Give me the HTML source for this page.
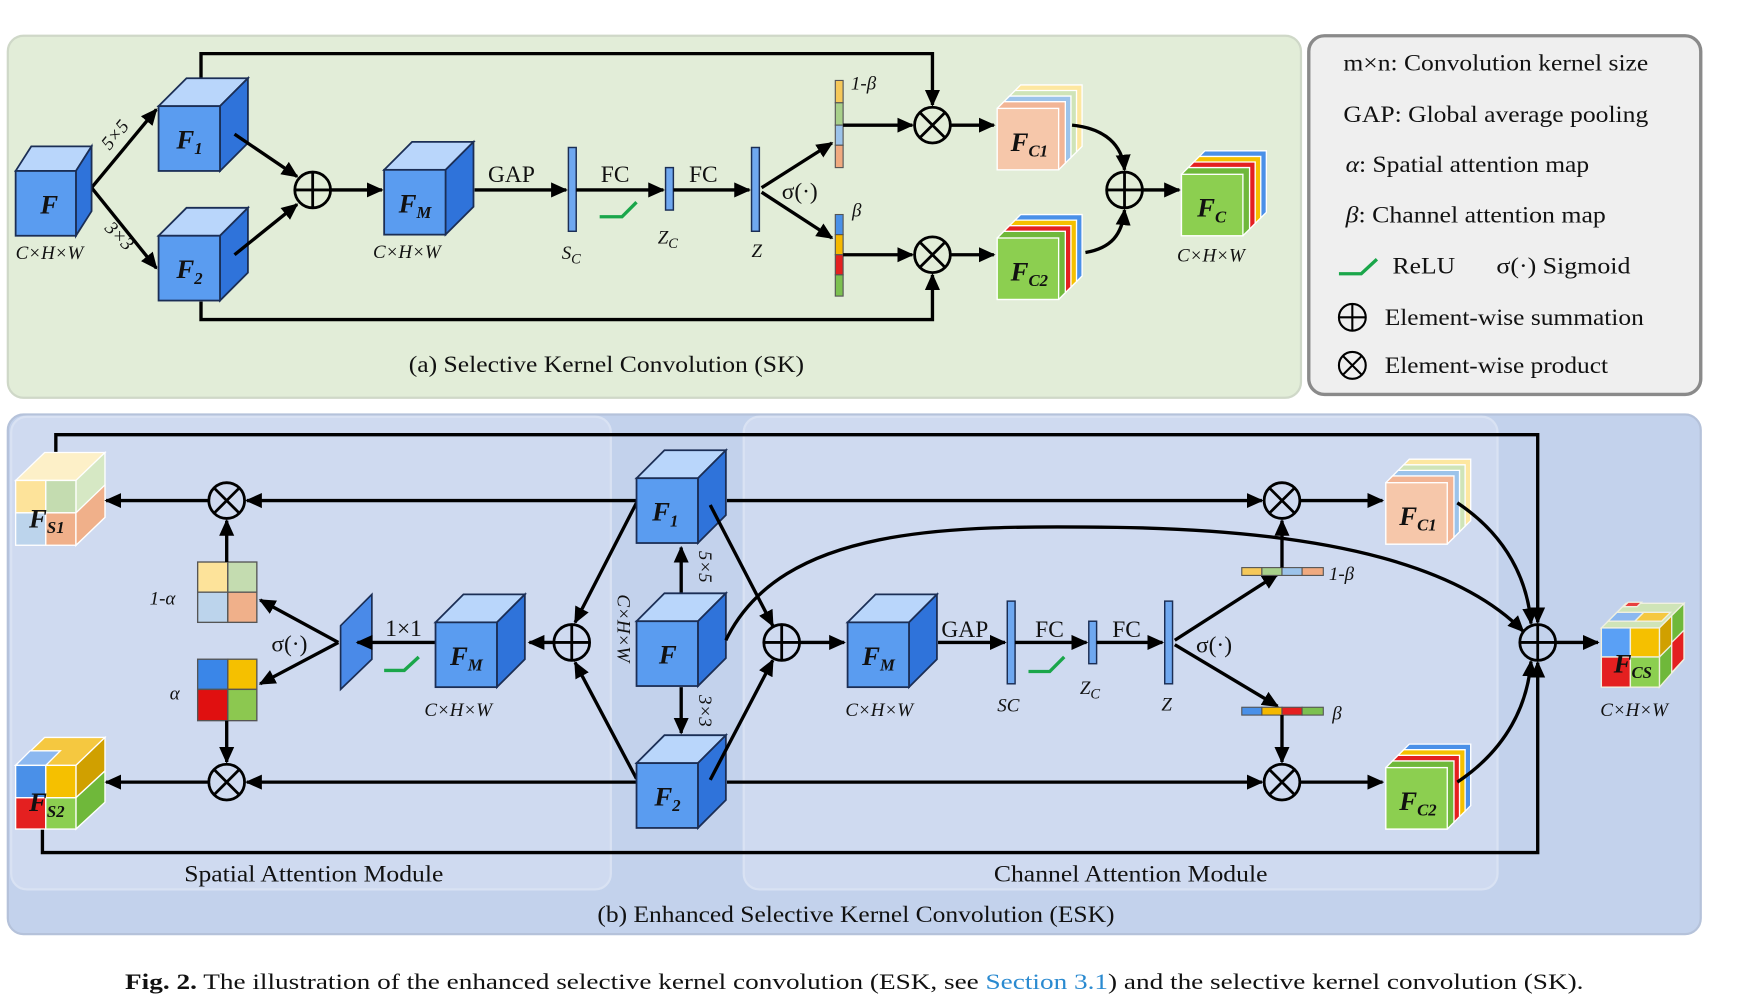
<!DOCTYPE html>
<html><head><meta charset="utf-8"><style>
html,body{margin:0;padding:0;background:#fff;width:1751px;height:1000px;overflow:hidden}
text{font-family:"Liberation Serif",serif;fill:#111}
.lb{font-style:italic;font-weight:bold;font-size:24px}
.sb{font-style:italic;font-weight:bold;font-size:15px}
.it{font-style:italic;font-size:17px}
.t{font-size:21px}
.ln{stroke:#000;stroke-width:3;fill:none}
.ar{stroke:#000;stroke-width:3;fill:none;marker-end:url(#ah)}
</style></head><body>
<svg width="1751" height="1000" viewBox="0 0 1568 895" preserveAspectRatio="none" xmlns="http://www.w3.org/2000/svg">
<defs>
<marker id="ah" viewBox="0 0 10 10" refX="9" refY="5" markerWidth="5" markerHeight="5" orient="auto"><path d="M0,0.5 L10,5 L0,9.5 z" fill="#000"/></marker>
<g id="cube" stroke="#1b2e55" stroke-width="1.6">
<polygon points="0,0 25,-25 80,-25 55,0" fill="#b9d6fb"/>
<polygon points="55,0 80,-25 80,33 55,58" fill="#2f73da"/>
<rect x="0" y="0" width="55" height="58" fill="#5a9cf0"/>
</g>
<g id="cubeS" stroke="#1b2e55" stroke-width="1.6">
<polygon points="0,0 14,-22 68,-22 54,0" fill="#b9d6fb"/>
<polygon points="54,0 68,-22 68,36 54,58" fill="#2f73da"/>
<rect x="0" y="0" width="54" height="58" fill="#5a9cf0"/>
</g>
<g id="plus"><circle r="16" fill="none" stroke="#000" stroke-width="2.5"/><path d="M-16,0H16M0,-16V16" stroke="#000" stroke-width="2.5"/></g>
<g id="times"><circle r="16" fill="none" stroke="#000" stroke-width="2.5"/><path d="M-11.3,-11.3L11.3,11.3M11.3,-11.3L-11.3,11.3" stroke="#000" stroke-width="2.5"/></g>
<g id="stO" stroke="#fff" stroke-width="1.2">
<polygon points="15,-15 21,-21 76,-21 76,34 70,40 15,40" fill="#fde7a0"/>
<polygon points="10,-10 16,-16 71,-16 71,39 65,45 10,45" fill="#cfe4b8"/>
<polygon points="5,-5 11,-11 66,-11 66,44 60,50 5,50" fill="#9cc3ea"/>
<polygon points="0,0 6,-6 61,-6 61,49 55,55 0,55" fill="#f2b595"/>
<rect x="0" y="0" width="55" height="55" fill="#f6c7aa"/>
</g>
<g id="stG" stroke="#fff" stroke-width="1.2">
<polygon points="15,-15 21,-21 76,-21 76,34 70,40 15,40" fill="#4a90e8"/>
<polygon points="10,-10 16,-16 71,-16 71,39 65,45 10,45" fill="#f5c000"/>
<polygon points="5,-5 11,-11 66,-11 66,44 60,50 5,50" fill="#e42020"/>
<polygon points="0,0 6,-6 61,-6 61,49 55,55 0,55" fill="#6fb83a"/>
<rect x="0" y="0" width="55" height="55" fill="#8ccf50"/>
</g>
</defs>

<!-- panels -->
<rect x="7" y="32" width="1158" height="324" rx="14" fill="#e2edd8" stroke="#cfd8c8" stroke-width="2"/>
<rect x="1172" y="32" width="351" height="321" rx="14" fill="#efefef" stroke="#8a8a8a" stroke-width="3"/>
<rect x="7" y="371" width="1516" height="465" rx="14" fill="#c3d2ec" stroke="#b5c2da" stroke-width="2"/>
<rect x="10" y="373" width="537" height="423" rx="14" fill="#cfdaf0" stroke="#d9e2f3" stroke-width="2"/>
<rect x="666" y="373" width="675" height="423" rx="14" fill="#cfdaf0" stroke="#d9e2f3" stroke-width="2"/>

<!-- ===== (a) ===== -->
<path class="ar" d="M180,70 V48 H835 V94"/>
<path class="ar" d="M180,270 V286 H835 V246"/>
<path class="ar" d="M82,168 L140,98"/>
<path class="ar" d="M82,168 L140,240"/>
<text class="it" transform="translate(98,135) rotate(-50)">5×5</text>
<text class="it" transform="translate(93,205) rotate(45)">3×3</text>
<use href="#cubeS" x="14" y="153"/>
<text class="lb" x="36" y="191">F</text>
<use href="#cube" x="142" y="95"/>
<text class="lb" x="158" y="133">F<tspan class="sb" dy="5">1</tspan></text>
<use href="#cube" x="142" y="211"/>
<text class="lb" x="158" y="249">F<tspan class="sb" dy="5">2</tspan></text>
<text class="it" x="14" y="232">C×H×W</text>
<path class="ar" d="M210,120 L266,158"/>
<path class="ar" d="M210,228 L266,183"/>
<use href="#plus" x="280" y="170"/>
<path class="ar" d="M296,170 H342"/>
<use href="#cube" x="344" y="152"/>
<text class="lb" x="357" y="190">F<tspan class="sb" dy="5">M</tspan></text>
<text class="it" x="334" y="231">C×H×W</text>
<path class="ar" d="M425,170 H507"/>
<text class="t" x="437" y="163">GAP</text>
<rect x="509" y="132" width="7" height="75" fill="#6fa8f0" stroke="#1b2e55" stroke-width="1.3"/>
<text class="it" x="503" y="232" font-size="20">S<tspan font-size="13" dy="4">C</tspan></text>
<path class="ar" d="M516,170 H594"/>
<text class="t" x="538" y="163">FC</text>
<path d="M537,194 H557 L570,181" stroke="#1aa64a" stroke-width="3" fill="none"/>
<rect x="596" y="150" width="7" height="38" fill="#6fa8f0" stroke="#1b2e55" stroke-width="1.3"/>
<text class="it" x="589" y="218" font-size="20">Z<tspan font-size="13" dy="4">C</tspan></text>
<path class="ar" d="M603,170 H671"/>
<text class="t" x="617" y="163">FC</text>
<rect x="673" y="132" width="7" height="75" fill="#6fa8f0" stroke="#1b2e55" stroke-width="1.3"/>
<text class="it" x="673" y="230" font-size="20">Z</text>
<text class="t" x="700" y="178">σ(·)</text>
<path class="ar" d="M682,168 L745,128"/>
<path class="ar" d="M682,172 L745,213"/>
<g stroke="#555" stroke-width="1">
<rect x="748" y="72" width="7" height="20" fill="#f5c85a"/><rect x="748" y="92" width="7" height="20" fill="#a8d08a"/>
<rect x="748" y="112" width="7" height="18" fill="#9cc3ea"/><rect x="748" y="130" width="7" height="20" fill="#f0aa80"/>
<rect x="748" y="192" width="7" height="18" fill="#4a90e8"/><rect x="748" y="210" width="7" height="18" fill="#f5b800"/>
<rect x="748" y="228" width="7" height="18" fill="#e42020"/><rect x="748" y="246" width="7" height="19" fill="#7cc050"/>
</g>
<text class="it" x="762" y="80" font-size="19">1-β</text>
<text class="it" x="763" y="194" font-size="19">β</text>
<path class="ar" d="M755,112 H817"/>
<path class="ar" d="M755,228 H817"/>
<use href="#times" x="835" y="112"/>
<use href="#times" x="835" y="228"/>
<path class="ar" d="M851,112 H890"/>
<path class="ar" d="M851,228 H890"/>
<use href="#stO" x="893" y="97"/>
<text class="lb" x="905" y="135">F<tspan class="sb" dy="5">C1</tspan></text>
<use href="#stG" x="893" y="213"/>
<text class="lb" x="905" y="251">F<tspan class="sb" dy="5">C2</tspan></text>
<path class="ar" d="M960,112 C990,115 1005,130 1007,152"/>
<path class="ar" d="M972,226 C995,222 1005,210 1007,188"/>
<use href="#plus" x="1007" y="170"/>
<path class="ar" d="M1023,170 H1056"/>
<use href="#stG" x="1058" y="156"/>
<text class="lb" x="1072" y="194">F<tspan class="sb" dy="5">C</tspan></text>
<text class="it" x="1054" y="234">C×H×W</text>
<text class="t" x="366" y="333" textLength="354" lengthAdjust="spacingAndGlyphs">(a) Selective Kernel Convolution (SK)</text>

<!-- legend -->
<text class="t" x="1203" y="63" textLength="273" lengthAdjust="spacingAndGlyphs">m×n: Convolution kernel size</text>
<text class="t" x="1203" y="109" textLength="273" lengthAdjust="spacingAndGlyphs">GAP: Global average pooling</text>
<text class="t" x="1205" y="154" textLength="218" lengthAdjust="spacingAndGlyphs"><tspan font-style="italic">α</tspan>: Spatial attention map</text>
<text class="t" x="1205" y="199" textLength="233" lengthAdjust="spacingAndGlyphs"><tspan font-style="italic">β</tspan>: Channel attention map</text>
<text class="t" x="1247" y="245" textLength="56" lengthAdjust="spacingAndGlyphs">ReLU</text>
<text class="t" x="1340" y="245" textLength="120" lengthAdjust="spacingAndGlyphs">σ(·) Sigmoid</text>
<text class="t" x="1240" y="291" textLength="232" lengthAdjust="spacingAndGlyphs">Element-wise summation</text>
<text class="t" x="1240" y="334" textLength="200" lengthAdjust="spacingAndGlyphs">Element-wise product</text>
<path d="M1199,245 H1219 L1233,232" stroke="#1aa64a" stroke-width="3" fill="none"/>
<g transform="translate(1211,284) scale(0.75)"><use href="#plus"/></g>
<g transform="translate(1211,327) scale(0.75)"><use href="#times"/></g>

<!-- ===== (b) ===== -->
<path class="ar" d="M50,405 V389 H1377 V557"/>
<path class="ar" d="M38,742 V763 H1377 V593"/>
<g stroke="#fff" stroke-width="1.2">
<polygon points="14,430 40,405 94,405 68,430" fill="#fdf0c8"/>
<polygon points="68,430 94,405 94,463 68,488" fill="#d6e8c4"/>
<rect x="14" y="430" width="27" height="29" fill="#fde39a"/><rect x="41" y="430" width="27" height="29" fill="#c4dcb0"/>
<rect x="14" y="459" width="27" height="29" fill="#bcd4ec"/><rect x="41" y="459" width="27" height="29" fill="#f0b08a"/>
<polygon points="68,459 94,434 94,463 68,488" fill="#f0b08a"/>
</g>
<text class="lb" x="26" y="472">F<tspan class="sb" dy="5">S1</tspan></text>
<g stroke="#fff" stroke-width="1.2">
<polygon points="14,685 40,660 94,660 68,685" fill="#f5c840"/>
<polygon points="14,685 27,672 54,672 41,685" fill="#8cb8f0"/>
<polygon points="68,685 94,660 94,690 68,714" fill="#d0a000"/>
<polygon points="68,714 94,690 94,718 68,742" fill="#6fb83a"/>
<rect x="14" y="685" width="27" height="29" fill="#4a90e8"/><rect x="41" y="685" width="27" height="29" fill="#f5c000"/>
<rect x="14" y="714" width="27" height="28" fill="#e42020"/><rect x="41" y="714" width="27" height="28" fill="#8ccf50"/>
</g>
<text class="lb" x="26" y="726">F<tspan class="sb" dy="5">S2</tspan></text>

<use href="#times" x="203" y="448"/>
<use href="#times" x="203" y="700"/>
<path class="ar" d="M187,448 H95"/>
<path class="ar" d="M187,700 H95"/>
<path class="ar" d="M570,448 H221"/>
<path class="ar" d="M570,700 H221"/>
<g stroke="#555" stroke-width="1.2">
<rect x="177" y="503" width="27" height="27" fill="#fde39a"/><rect x="204" y="503" width="26" height="27" fill="#c4dcb0"/>
<rect x="177" y="530" width="27" height="27" fill="#bcd4ec"/><rect x="204" y="530" width="26" height="27" fill="#f0b08a"/>
<rect x="177" y="590" width="27" height="27" fill="#3a86e8"/><rect x="204" y="590" width="26" height="27" fill="#f5c000"/>
<rect x="177" y="617" width="27" height="28" fill="#e01010"/><rect x="204" y="617" width="26" height="28" fill="#8cc850"/>
</g>
<path class="ar" d="M203,503 V466"/>
<path class="ar" d="M203,645 V682"/>
<text class="it" x="134" y="541" font-size="19">1-α</text>
<text class="it" x="152" y="626" font-size="19">α</text>
<path class="ar" d="M303,575 L233,537"/>
<path class="ar" d="M303,575 L233,612"/>
<text class="t" x="243" y="583">σ(·)</text>
<polygon points="305,560 333,532 333,590 305,617" fill="#4a8ae8" stroke="#1b2e55" stroke-width="1.5"/>
<path class="ar" d="M390,575 H320"/>
<text class="t" x="345" y="569">1×1</text>
<path d="M344,600 H362 L375,588" stroke="#1aa64a" stroke-width="3" fill="none"/>
<use href="#cube" x="390" y="557"/>
<text class="lb" x="403" y="595">F<tspan class="sb" dy="5">M</tspan></text>
<text class="it" x="380" y="641">C×H×W</text>
<path class="ar" d="M496,575 H474"/>
<use href="#plus" x="512" y="575"/>
<path class="ar" d="M570,450 L515,557"/>
<path class="ar" d="M570,697 L515,593"/>

<path class="ar" d="M610,533 V490"/>
<path class="ar" d="M610,615 V656"/>
<use href="#cube" x="570" y="428"/>
<text class="lb" x="584" y="466">F<tspan class="sb" dy="5">1</tspan></text>
<use href="#cube" x="570" y="556"/>
<text class="lb" x="590" y="594">F</text>
<use href="#cube" x="570" y="683"/>
<text class="lb" x="586" y="721">F<tspan class="sb" dy="5">2</tspan></text>
<text class="it" transform="translate(626,493) rotate(90)" font-size="17">5×5</text>
<text class="it" transform="translate(626,622) rotate(90)" font-size="17">3×3</text>
<text class="it" transform="translate(553,532) rotate(90)" font-size="16">C×H×W</text>

<path class="ar" d="M651,448 H1130"/>
<path class="ar" d="M651,700 H1130"/>
<use href="#times" x="1148" y="448"/>
<use href="#times" x="1148" y="700"/>
<path class="ar" d="M1164,448 H1238"/>
<path class="ar" d="M1164,700 H1238"/>
<path class="ar" d="M636,452 L692,560"/>
<path class="ar" d="M636,698 L692,591"/>
<path class="ar" d="M650,573 C700,470 850,470 1000,472 C1200,475 1310,510 1364,565"/>
<use href="#plus" x="700" y="575"/>
<path class="ar" d="M716,575 H756"/>
<use href="#cube" x="759" y="557"/>
<text class="lb" x="772" y="595">F<tspan class="sb" dy="5">M</tspan></text>
<text class="it" x="757" y="641">C×H×W</text>
<path class="ar" d="M840,575 H900"/>
<text class="t" x="843" y="570">GAP</text>
<rect x="902" y="538" width="7" height="74" fill="#6fa8f0" stroke="#1b2e55" stroke-width="1.3"/>
<text class="it" x="893" y="637" font-size="20">SC</text>
<path class="ar" d="M909,575 H973"/>
<text class="t" x="927" y="570">FC</text>
<path d="M921,601 H940 L953,588" stroke="#1aa64a" stroke-width="3" fill="none"/>
<rect x="975" y="556" width="7" height="38" fill="#6fa8f0" stroke="#1b2e55" stroke-width="1.3"/>
<text class="it" x="967" y="621" font-size="20">Z<tspan font-size="13" dy="4">C</tspan></text>
<path class="ar" d="M982,575 H1041"/>
<text class="t" x="996" y="570">FC</text>
<rect x="1043" y="538" width="7" height="74" fill="#6fa8f0" stroke="#1b2e55" stroke-width="1.3"/>
<text class="it" x="1040" y="636" font-size="20">Z</text>
<text class="t" x="1071" y="584">σ(·)</text>
<path class="ar" d="M1052,573 L1144,514"/>
<path class="ar" d="M1052,577 L1144,632"/>
<g stroke="#555" stroke-width="1">
<rect x="1112" y="508" width="18" height="7" fill="#f5c85a"/><rect x="1130" y="508" width="18" height="7" fill="#a8d08a"/>
<rect x="1148" y="508" width="18" height="7" fill="#9cc3ea"/><rect x="1166" y="508" width="19" height="7" fill="#f0aa80"/>
<rect x="1112" y="633" width="18" height="7" fill="#4a90e8"/><rect x="1130" y="633" width="18" height="7" fill="#f5b800"/>
<rect x="1148" y="633" width="18" height="7" fill="#e42020"/><rect x="1166" y="633" width="19" height="7" fill="#7cc050"/>
</g>
<text class="it" x="1190" y="519" font-size="19">1-β</text>
<text class="it" x="1193" y="644" font-size="19">β</text>
<path class="ar" d="M1148,508 V466"/>
<path class="ar" d="M1148,640 V682"/>
<use href="#stO" x="1241" y="432"/>
<text class="lb" x="1253" y="470">F<tspan class="sb" dy="5">C1</tspan></text>
<use href="#stG" x="1241" y="687"/>
<text class="lb" x="1253" y="725">F<tspan class="sb" dy="5">C2</tspan></text>
<path class="ar" d="M1305,450 C1350,480 1368,520 1371,558"/>
<path class="ar" d="M1305,700 C1350,670 1368,630 1371,592"/>
<use href="#plus" x="1377" y="575"/>
<path class="ar" d="M1393,575 H1431"/>
<g stroke="#f0f0e0" stroke-width="1.2">
<polygon points="1434,562 1456,540 1508,540 1486,562" fill="#cfe4b8"/>
<polygon points="1440,556 1448,548 1472,548 1464,556" fill="#8cb8f0"/>
<polygon points="1464,556 1472,548 1496,548 1488,556" fill="#f5c840"/>
<polygon points="1454,543 1466,543 1470,539 1458,539" fill="#e84040"/>
<polygon points="1486,562 1508,540 1508,590 1486,615" fill="#6fb83a"/>
<polygon points="1486,562 1497,551 1497,577 1486,588" fill="#d0a000"/>
<polygon points="1497,575 1508,564 1508,590 1497,602" fill="#e42020"/>
<rect x="1434" y="562" width="26" height="26" fill="#5aa0f5"/><rect x="1460" y="562" width="26" height="26" fill="#f5c000"/>
<rect x="1434" y="588" width="26" height="27" fill="#e42020"/><rect x="1460" y="588" width="26" height="27" fill="#8ccf50"/>
</g>
<text class="lb" x="1445" y="602">F<tspan class="sb" dy="5">CS</tspan></text>
<text class="it" x="1433" y="641">C×H×W</text>

<text class="t" x="165" y="789" textLength="232" lengthAdjust="spacingAndGlyphs">Spatial Attention Module</text>
<text class="t" x="890" y="789" textLength="245" lengthAdjust="spacingAndGlyphs">Channel Attention Module</text>
<text class="t" x="535" y="825" textLength="463" lengthAdjust="spacingAndGlyphs">(b) Enhanced Selective Kernel Convolution (ESK)</text>

<text x="112" y="885" font-size="20" textLength="1306" lengthAdjust="spacingAndGlyphs"><tspan font-weight="bold">Fig. 2.</tspan>  The illustration of the enhanced selective kernel convolution (ESK, see <tspan style="fill:#2a8ad0">Section 3.1</tspan>) and the selective kernel convolution (SK).</text>
</svg>
</body></html>
